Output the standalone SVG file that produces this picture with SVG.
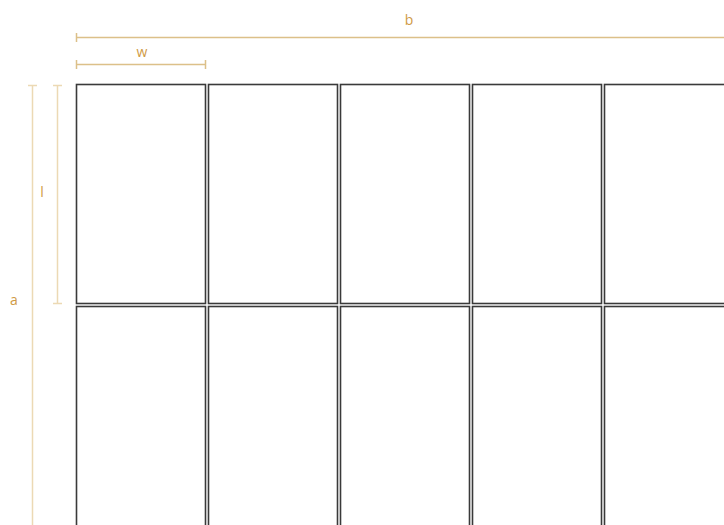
<svg xmlns="http://www.w3.org/2000/svg" width="724" height="525" viewBox="0 0 724 525">
<style>
.tile{fill:#fff;stroke:#3a3a3a;stroke-width:1.6}
.dim{stroke:#dcc089;stroke-width:1.5;fill:none}
.dimv{stroke:#ecd9b4;stroke-width:1.5;fill:none}
.lbl{font-family:"Open Sans","Liberation Sans",sans-serif;font-size:14px;fill:#cf9a45;text-anchor:middle}
</style>
<rect width="724" height="525" fill="#fff"/>
<g id="tiles">
<rect id="t1" class="tile" x="76.5" y="84.5" width="129" height="219"/>
<rect id="t2" class="tile" x="208.5" y="84.5" width="129" height="219"/>
<rect id="t3" class="tile" x="340.5" y="84.5" width="129" height="219"/>
<rect id="t4" class="tile" x="472.5" y="84.5" width="129" height="219"/>
<rect id="t5" class="tile" x="604.5" y="84.5" width="129" height="219"/>
<rect id="t6" class="tile" x="76.5" y="306.5" width="129" height="230"/>
<rect id="t7" class="tile" x="208.5" y="306.5" width="129" height="230"/>
<rect id="t8" class="tile" x="340.5" y="306.5" width="129" height="230"/>
<rect id="t9" class="tile" x="472.5" y="306.5" width="129" height="230"/>
<rect id="t10" class="tile" x="604.5" y="306.5" width="129" height="230"/>
</g>
<g id="dimensions">
<path class="dim" d="M76.5 37.5H724M76.5 33v9"/>
<path class="dim" d="M76.5 64.5H205.5M76.5 60v9M205.5 60v9"/>
<path class="dimv" d="M32.5 85V525M28 85.5h9"/>
<path class="dimv" d="M57.5 85V303M53 85.5h9M53 303.5h9"/>
<text class="lbl" x="409" y="25">b</text>
<text class="lbl" x="142" y="57">w</text>
<text class="lbl" x="14" y="305">a</text>
<text class="lbl" x="42" y="197">l</text>
</g>
</svg>
